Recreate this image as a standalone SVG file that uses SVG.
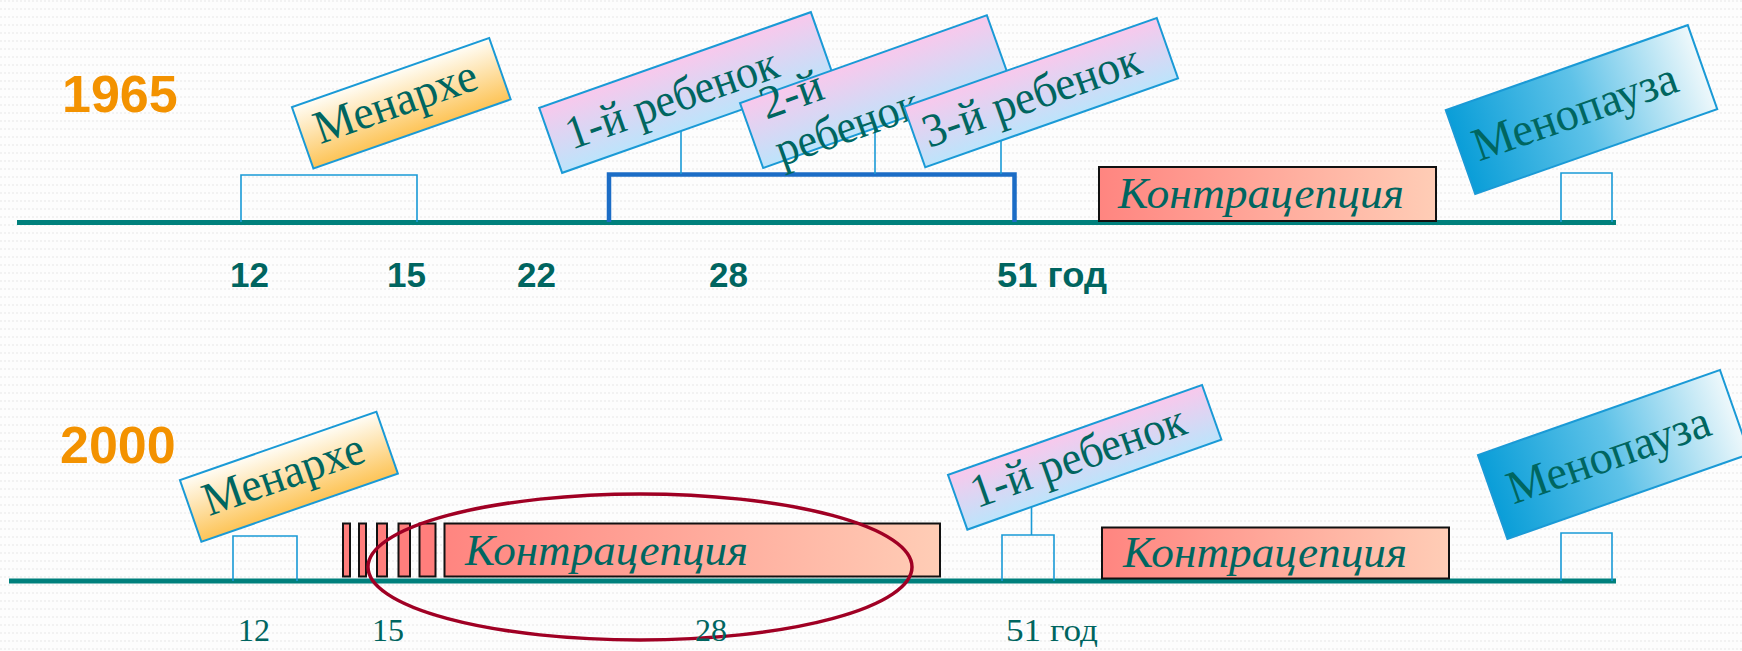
<svg xmlns="http://www.w3.org/2000/svg" width="1742" height="651" viewBox="0 0 1742 651">
<defs>
<pattern id="bgdots" width="4" height="8" patternUnits="userSpaceOnUse">
<rect width="4" height="8" fill="#FDFDFD"/>
<rect x="0" y="0" width="2" height="2" fill="#F2F2F2"/>
</pattern>
<linearGradient id="gMen" x1="0" y1="0" x2="0" y2="1">
<stop offset="0" stop-color="#FFFDF6"/>
<stop offset="1" stop-color="#FDC457"/>
</linearGradient>
<linearGradient id="gChild" x1="0" y1="0" x2="0" y2="1">
<stop offset="0" stop-color="#F9C8EC"/>
<stop offset="1" stop-color="#BCE4FB"/>
</linearGradient>
<linearGradient id="gMeno" x1="0" y1="0" x2="1" y2="0">
<stop offset="0" stop-color="#0A9ED8"/>
<stop offset="0.5" stop-color="#5EC2E8"/>
<stop offset="1" stop-color="#EEF8FB"/>
</linearGradient>
<linearGradient id="gContra" x1="0" y1="0" x2="1" y2="0">
<stop offset="0" stop-color="#FF8580"/>
<stop offset="1" stop-color="#FFCDB6"/>
</linearGradient>
<style>
.axis{stroke:#00807C;stroke-width:5;fill:none}
.bracket{stroke:#1A9AD6;stroke-width:1.6;fill:none}
.conn{stroke:#1A9AD6;stroke-width:1.6;fill:none}
.box{stroke:#1A9AD6;stroke-width:2}
.contra{stroke:#111;stroke-width:2;fill:url(#gContra)}
.bar{stroke:#111;stroke-width:2;fill:#FF7E7C}
.lbl{font-family:"Liberation Serif","DejaVu Serif",serif;font-size:47px;fill:#006660}
.clbl{font-family:"Liberation Serif","DejaVu Serif",serif;font-style:italic;font-size:44px;fill:#006660}
.year{font-family:"Liberation Sans",Arial,sans-serif;font-weight:bold;font-size:52px;fill:#F39200}
.num{font-family:"Liberation Sans",Arial,sans-serif;font-weight:bold;font-size:35px;fill:#006560}
.num2{font-family:"Liberation Serif","DejaVu Serif",serif;font-size:32px;fill:#006560}
</style>
</defs>
<rect width="1742" height="651" fill="url(#bgdots)"/>

<!-- 1965 timeline -->
<g id="year-1965"><text class="year" x="62" y="112">1965</text></g>
<g id="axis-1965"><line class="axis" x1="17" y1="222.5" x2="1616" y2="222.5"/></g>
<g id="menarche-bracket-1965"><path class="bracket" d="M241,222 V175 H417 V222"/></g>
<g id="children-bracket-1965"><path d="M609,222 V174.5 H1014.5 V222" fill="none" stroke="#1C6DC6" stroke-width="4.5"/></g>
<g id="menopause-square-1965"><path class="bracket" d="M1561,222 V173 H1612 V222"/></g>

<g id="connectors">
<line class="conn" x1="681" y1="128" x2="681" y2="174"/>
<line class="conn" x1="875" y1="124" x2="875" y2="174"/>
<line class="conn" x1="1001" y1="136" x2="1001" y2="174"/>
<line class="conn" x1="1031.5" y1="503" x2="1031.5" y2="535"/>
</g>

<g id="menarche-1965" transform="translate(401.3 103.2) rotate(-19.3)">
<rect class="box" x="-104.5" y="-32.5" width="209" height="65" fill="url(#gMen)"/>
<text class="lbl" x="-5" y="12" text-anchor="middle" textLength="170" lengthAdjust="spacingAndGlyphs">Менархе</text>
</g>
<g id="child1-1965" transform="translate(686.5 92.5) rotate(-19.4)">
<rect class="box" x="-144" y="-34.5" width="288" height="69" fill="url(#gChild)"/>
<text class="lbl" x="-16" y="16" text-anchor="middle" textLength="222" lengthAdjust="spacingAndGlyphs">1-й ребенок</text>
</g>
<g id="child2-1965" transform="translate(875 91.6) rotate(-19.6)">
<rect class="box" x="-131" y="-34.5" width="262" height="69" fill="url(#gChild)"/>
<text class="lbl" x="-112" y="-10">2-й</text>
<text class="lbl" x="-113" y="39" textLength="150" lengthAdjust="spacingAndGlyphs">ребенок</text>
</g>
<g id="child3-1965" transform="translate(1041 92.6) rotate(-19.4)">
<rect class="box" x="-134" y="-32" width="268" height="64" fill="url(#gChild)"/>
<text class="lbl" x="-10" y="15" text-anchor="middle" textLength="228" lengthAdjust="spacingAndGlyphs">3-й ребенок</text>
</g>
<g id="contraception-1965">
<rect class="contra" x="1099" y="167" width="337" height="54"/>
<text class="clbl" x="1118" y="208" textLength="286" lengthAdjust="spacingAndGlyphs">Контрацепция</text>
</g>
<g id="menopause-1965" transform="translate(1581.5 109.6) rotate(-19.35)">
<rect class="box" x="-128.25" y="-44.5" width="256.5" height="89" fill="url(#gMeno)"/>
<text class="lbl" x="-7" y="15" text-anchor="middle" textLength="214" lengthAdjust="spacingAndGlyphs">Менопауза</text>
</g>
<g id="labels-1965">
<text class="num" x="230" y="287">12</text>
<text class="num" x="387" y="287">15</text>
<text class="num" x="517" y="287">22</text>
<text class="num" x="709" y="287">28</text>
<text class="num" x="997" y="287" textLength="110" lengthAdjust="spacingAndGlyphs">51 год</text>
</g>

<!-- 2000 timeline -->
<g id="year-2000"><text class="year" x="60" y="463">2000</text></g>
<g id="axis-2000"><line class="axis" x1="9" y1="581" x2="1616" y2="581"/></g>
<g id="menarche-square-2000"><path class="bracket" d="M233,581 V536 H297 V581"/></g>
<g id="menarche-2000" transform="translate(288.9 476.8) rotate(-19.15)">
<rect class="box" x="-104" y="-32.7" width="208" height="65.4" fill="url(#gMen)"/>
<text class="lbl" x="-4.5" y="11" text-anchor="middle" textLength="168" lengthAdjust="spacingAndGlyphs">Менархе</text>
</g>
<g id="contraception-bars-2000">
<rect class="bar" x="343" y="523.5" width="7" height="53"/>
<rect class="bar" x="359" y="523.5" width="7" height="53"/>
<rect class="bar" x="377" y="523.5" width="10" height="53"/>
<rect class="bar" x="398.5" y="523.5" width="11.5" height="53"/>
<rect class="bar" x="419.5" y="523.5" width="16" height="53"/>
</g>
<g id="contraception-2000">
<rect class="contra" x="444.5" y="523.5" width="495.5" height="53"/>
<text class="clbl" x="465" y="565" textLength="283" lengthAdjust="spacingAndGlyphs">Контрацепция</text>
</g>
<g id="child-square-2000"><path class="bracket" d="M1002,581 V535 H1054 V581"/></g>
<g id="child1-2000" transform="translate(1084.7 457.3) rotate(-19.5)">
<rect class="box" x="-134.75" y="-29" width="269.5" height="58" fill="url(#gChild)"/>
<text class="lbl" x="-6" y="12" text-anchor="middle" textLength="225" lengthAdjust="spacingAndGlyphs">1-й ребенок</text>
</g>
<g id="contraception2-2000">
<rect class="contra" x="1102" y="527.5" width="347" height="51"/>
<text class="clbl" x="1123" y="567" textLength="284" lengthAdjust="spacingAndGlyphs">Контрацепция</text>
</g>
<g id="menopause-square-2000"><path class="bracket" d="M1561,581 V533 H1612 V581"/></g>
<g id="menopause-2000" transform="translate(1613.7 454.5) rotate(-19.35)">
<rect class="box" x="-128.25" y="-44.5" width="256.5" height="89" fill="url(#gMeno)"/>
<text class="lbl" x="-5" y="14" text-anchor="middle" textLength="212" lengthAdjust="spacingAndGlyphs">Менопауза</text>
</g>
<g id="highlight-ellipse"><ellipse cx="640" cy="567" rx="272" ry="73" fill="none" stroke="#A00024" stroke-width="3.5"/></g>
<g id="labels-2000">
<text class="num2" x="238" y="641">12</text>
<text class="num2" x="372" y="641">15</text>
<text class="num2" x="695" y="641">28</text>
<text class="num2" x="1006" y="641" textLength="92" lengthAdjust="spacingAndGlyphs">51 год</text>
</g>
</svg>
